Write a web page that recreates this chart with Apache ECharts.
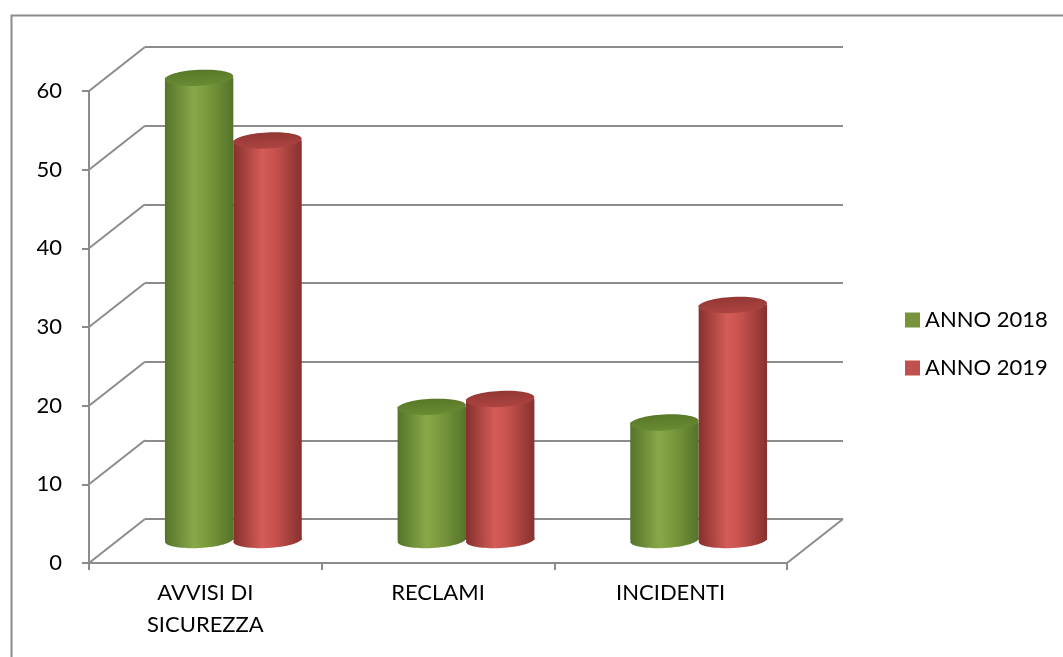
<!DOCTYPE html>
<html><head><meta charset="utf-8">
<script src="https://cdn.jsdelivr.net/npm/echarts@6/dist/echarts.min.js"></script>
<style>html,body{margin:0;padding:0;background:#fff;}#c{width:1063px;height:657px;}</style>
</head><body><div id="c"></div>
<script>
const categories = ['AVVISI DI\nSICUREZZA', 'RECLAMI', 'INCIDENTI'];
const seriesNames = ['ANNO 2018', 'ANNO 2019'];
const values2018 = [59, 17, 15];
const values2019 = [51, 18, 30];
const yTicks = [0, 10, 20, 30, 40, 50, 60];

const chart = echarts.init(document.getElementById('c'));
const FONT = 'Lato';
const GRID_COLOR = '#8c8c8c';
const DEPTH_X = 56, DEPTH_Y = -44;
const TILT = 0.05;

const palettes = [
  {edge: '#55742a', light: '#88a848', mid: '#7a993d', top0: '#587828', top1: '#6a8b33', legend: '#77933C'},
  {edge: '#86302e', light: '#d55c58', mid: '#c5514d', top0: '#933734', top1: '#ad4441', legend: '#C0504D'}
];

function cylinderRender(idx) {
  return function (params, api) {
    const cat = api.value(0), val = api.value(1);
    const band = api.size([1, 0])[0];
    const bw = band * 0.294;
    const c0 = api.coord([cat, 0]);
    const cx = c0[0] + (idx === 0 ? -bw / 2 : bw / 2);
    const yBot = c0[1];
    const yTop = api.coord([cat, val])[1];
    const rx = bw / 2, ry = 8;
    const p = palettes[idx];
    const sideGrad = () => new echarts.graphic.LinearGradient(0, 0, 1, 0, [
      {offset: 0, color: p.edge}, {offset: 0.42, color: p.light},
      {offset: 0.62, color: p.mid}, {offset: 1, color: p.edge}]);
    return {
      type: 'group',
      children: [
        {type: 'ellipse', shape: {cx: cx, cy: yBot, rx: rx, ry: ry},
          rotation: TILT, originX: cx, originY: yBot, style: {fill: sideGrad()}},
        {type: 'rect', shape: {x: cx - rx, y: yTop, width: rx * 2, height: yBot - yTop}, style: {fill: sideGrad()}},
        {type: 'ellipse', shape: {cx: cx, cy: yTop, rx: rx, ry: ry},
          rotation: TILT, originX: cx, originY: yTop,
          style: {fill: new echarts.graphic.LinearGradient(0, 0, 0, 1, [
            {offset: 0, color: p.top0}, {offset: 1, color: p.top1}])}}
      ]
    };
  };
}

const diagData = yTicks.map(v => [v, 0]).concat([[0, 1]]);

const option = {
  animation: false,
  backgroundColor: '#fff',
  textStyle: {fontFamily: FONT},
  graphic: [{
    type: 'rect', left: 9, top: 13, shape: {width: 1100, height: 700},
    style: {fill: 'none', stroke: '#8c8c8c', lineWidth: 2}, silent: true
  }],
  legend: {
    data: seriesNames,
    orient: 'vertical',
    left: 900, top: 304,
    itemWidth: 15, itemHeight: 15, itemGap: 26,
    icon: 'rect',
    textStyle: {fontFamily: FONT, fontSize: 22, lineHeight: 22, color: '#000'}
  },
  grid: [
    {left: 89, right: 276, top: 91, bottom: 94},
    {left: 145, right: 220, top: 47, bottom: 138},
    {left: 117, right: 248, top: 70, bottom: 117}
  ],
  xAxis: [
    {gridIndex: 0, type: 'category', data: categories, boundaryGap: true,
      axisLine: {lineStyle: {color: GRID_COLOR, width: 2}},
      axisTick: {show: true, length: 7, interval: 0, lineStyle: {color: GRID_COLOR, width: 2}},
      axisLabel: {interval: 0, fontSize: 22, lineHeight: 32, color: '#000', margin: 14, fontFamily: FONT}},
    {gridIndex: 1, type: 'category', data: categories, show: false},
    {gridIndex: 2, type: 'category', data: categories, show: false}
  ],
  yAxis: [
    {gridIndex: 0, type: 'value', min: 0, max: 60, interval: 10,
      axisLine: {show: true, lineStyle: {color: GRID_COLOR, width: 2}},
      axisTick: {show: true, length: 7, lineStyle: {color: GRID_COLOR, width: 2}},
      axisLabel: {fontSize: 22, color: '#000', margin: 27, fontFamily: FONT},
      splitLine: {show: false}},
    {gridIndex: 1, type: 'value', min: 0, max: 60, interval: 10,
      axisLine: {show: false}, axisTick: {show: false}, axisLabel: {show: false},
      splitLine: {show: true, lineStyle: {color: GRID_COLOR, width: 2}}},
    {gridIndex: 2, type: 'value', min: 0, max: 60, interval: 10, show: false}
  ],
  series: [
    {
      type: 'custom', name: 'diag', xAxisIndex: 0, yAxisIndex: 0, silent: true,
      data: diagData,
      renderItem: function (params, api) {
        const cs = params.coordSys;
        const v = api.value(0), side = api.value(1);
        const y = api.coord([0, v])[1];
        const x = side === 1 ? cs.x + cs.width : cs.x;
        return {type: 'line', shape: {x1: x, y1: y, x2: x + DEPTH_X, y2: y + DEPTH_Y},
          style: {stroke: GRID_COLOR, lineWidth: 2}};
      }
    },
    {
      type: 'custom', name: seriesNames[0], xAxisIndex: 2, yAxisIndex: 2,
      itemStyle: {color: palettes[0].legend},
      data: values2018.map((v, i) => [i, v]),
      renderItem: cylinderRender(0)
    },
    {
      type: 'custom', name: seriesNames[1], xAxisIndex: 2, yAxisIndex: 2,
      itemStyle: {color: palettes[1].legend},
      data: values2019.map((v, i) => [i, v]),
      renderItem: cylinderRender(1)
    }
  ]
};
chart.setOption(option);
</script></body></html>
